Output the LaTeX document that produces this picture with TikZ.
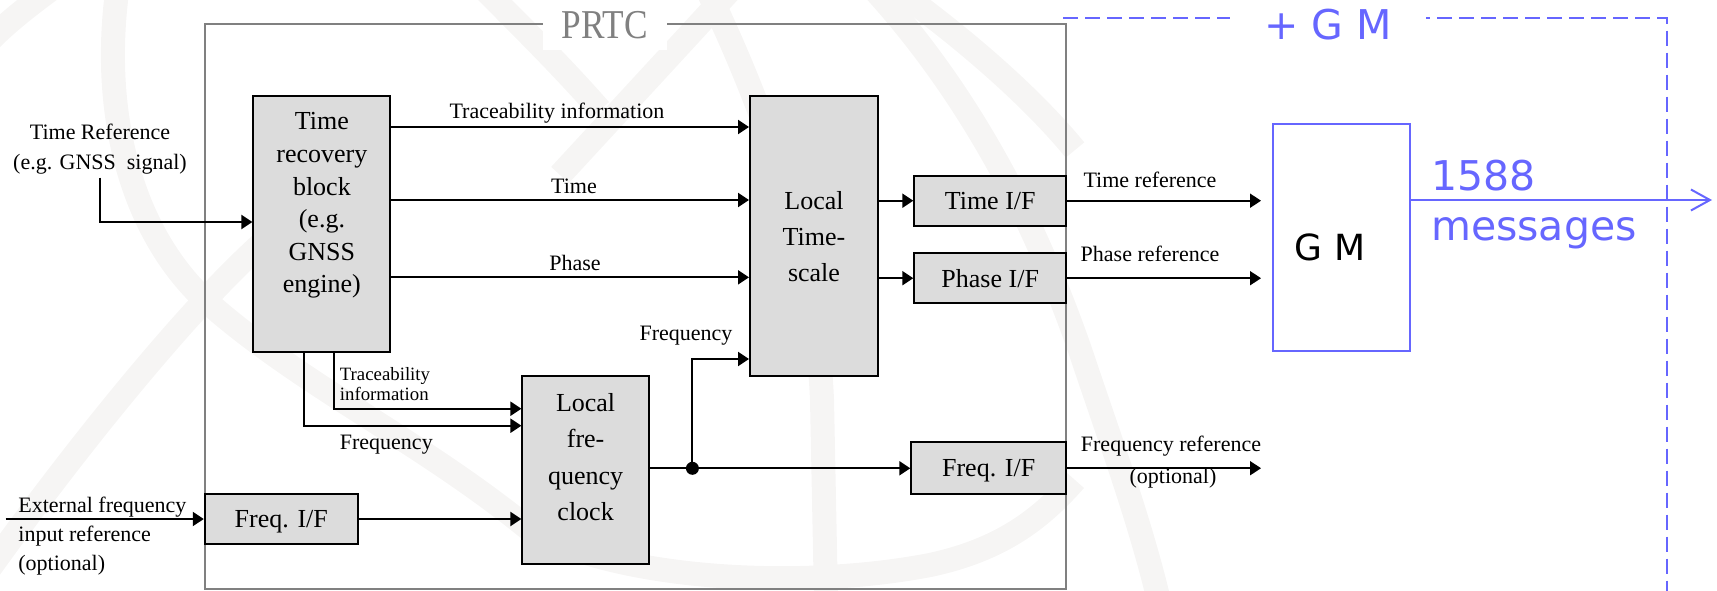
\documentclass[tikz,border=0pt]{standalone}
\usepackage{fontspec}
\usepackage{graphicx}
\setmainfont{Liberation Serif}
\newfontfamily\gmsans{DejaVu Sans}
\usetikzlibrary{arrows.meta}
\definecolor{boxgray}{RGB}{220,220,220}
\definecolor{framegray}{RGB}{128,128,128}
\definecolor{gmblue}{RGB}{102,102,255}
\definecolor{wmark}{RGB}{246,245,244}
\begin{document}
\begin{tikzpicture}[x=0.5pt,y=-0.5pt,
  blk/.style={draw=black,line width=1pt,fill=boxgray,inner sep=0pt},
  ifbox/.style={blk,font=\fontsize{13}{16}\selectfont,text depth=0pt},
  btxt/.style={align=center,inner sep=0pt},
  arr/.style={line width=1pt,-{Triangle[length=5.5pt,width=7pt]}},
  lbl/.style={font=\fontsize{11}{15}\selectfont,inner sep=0pt},
  wm/.style={draw=wmark,line width=12pt},
  gmline/.style={draw=gmblue,line width=1pt}]
\useasboundingbox (0,0) rectangle (1717,590);

% faint emblem in the background
\begin{scope}
\clip (0,0) rectangle (1717,590);
\draw[wm] (-10,40) .. controls (10,20) and (30,5) .. (50,-10);
\draw[wm] (118,-15) .. controls (100,110) and (130,230) .. (205,300)
  .. controls (300,385) and (420,440) .. (530,530)
  .. controls (620,580) and (800,590) .. (930,565)
  .. controls (1000,550) and (1040,520) .. (1075,480);
\draw[wm] (-15,575) .. controls (60,470) and (140,370) .. (205,300)
  .. controls (240,262) and (270,235) .. (300,210);
\draw[wm] (705,-15) .. controls (760,100) and (815,240) .. (822,400) -- (826,600);
\draw[wm] (870,-15) .. controls (985,110) and (1045,250) .. (1080,350)
  .. controls (1110,440) and (1140,520) .. (1160,605);
\draw[wm] (560,175) .. controls (620,110) and (680,45) .. (735,-15);
\draw[wm] (480,-15) .. controls (525,30) and (565,70) .. (600,110);
\draw[wm] (890,-15) .. controls (960,35) and (1030,95) .. (1075,150);
\end{scope}

% PRTC frame and its title
\node[draw=framegray,line width=1pt,minimum width=430.65pt,minimum height=282.4pt,inner sep=0pt]
  (prtc) at (635.35,306.1) {};
\node[fill=white,minimum width=62pt,minimum height=25pt,inner sep=0pt,text=framegray,
  font=\fontsize{20.5}{24}\selectfont] (prtclbl) at (605,25) {\scalebox{0.86}[1]{PRTC}};

% +GM dashed frame
\coordinate (gmfl) at (1063,18.3);
\coordinate (gmfr) at (1666.8,18.3);
\coordinate (gmfb) at (1666.8,595);
\draw[gmline,dash pattern=on 7.5pt off 3.5pt] (gmfl) -- (gmfr) -- (gmfb);
\node[fill=white,minimum width=98pt,minimum height=20pt,inner sep=0pt,text=gmblue,
  font=\gmsans\fontsize{20.5}{24}\selectfont] (gmlbl) at (1328,25) {+ G M};

% blocks
\node[blk,minimum width=68.5pt,minimum height=127.9pt] (trb) at (321.9,223.9) {};
\node[btxt,font=\fontsize{13}{16.3}\selectfont] (trbtxt) at (321.9,205.5)
  {Time\\recovery\\block\\(e.g.\\GNSS\\engine)};
\node[blk,minimum width=64pt,minimum height=139.9pt] (lts) at (814,235.9) {};
\node[btxt,font=\fontsize{13}{18}\selectfont] (ltstxt) at (814,237) {Local\\Time-\\scale};
\node[blk,minimum width=63.2pt,minimum height=94.3pt] (lfc) at (585.6,470) {};
\node[btxt,font=\fontsize{13}{18.15}\selectfont] (lfctxt) at (585.6,457.2)
  {Local\\fre-\\quency\\clock};
\node[ifbox,minimum width=75.9pt,minimum height=25pt] (tif) at (990.2,200.7) {Time I/F};
\node[ifbox,minimum width=75.9pt,minimum height=24.9pt] (pif) at (990.2,278.2) {Phase I/F};
\node[ifbox,minimum width=77.4pt,minimum height=25.9pt] (fifr) at (988.7,468.2) {Freq. I/F};
\node[ifbox,minimum width=76.5pt,minimum height=25pt] (fifl) at (281.3,519) {Freq. I/F};
\node[draw=gmblue,line width=1pt,fill=white,minimum width=68.3pt,minimum height=113.4pt,
  inner sep=0pt] (gm) at (1341.6,237.4) {};
\node[inner sep=0pt,font=\gmsans\fontsize{18}{22}\selectfont] (gmtxt) at (1330,247) {G M};

% labels
\node[lbl,align=center] (tref) at (100,149) {Time Reference\\(e.g. GNSS\ \ signal)};
\node[lbl,align=left,anchor=west,font=\fontsize{11}{14.35}\selectfont] (extref) at (18,536)
  {External frequency\\input reference\\(optional)};
\node[lbl,anchor=base] (ltrace) at (557,118) {Traceability information};
\node[lbl,anchor=base] (ltime) at (574,193.8) {Time};
\node[lbl,anchor=base] (lphase) at (575,270) {Phase};
\node[inner sep=0pt,align=left,anchor=west,font=\fontsize{9.4}{10}\selectfont] (ltrace2)
  at (339.5,384.4) {Traceability\\information};
\node[lbl,anchor=base west] (lfreq1) at (339.5,449.7) {Frequency};
\node[lbl,anchor=base] (lfreq2) at (686,340.6) {Frequency};
\node[lbl,anchor=base] (ltref) at (1150,187) {Time reference};
\node[lbl,anchor=base] (lpref) at (1150,261.5) {Phase reference};
\node[lbl,anchor=base] (lfref) at (1171,451.6) {Frequency reference};
\node[lbl,anchor=base] (lfopt) at (1173,483.5) {(optional)};
\node[inner sep=0pt,align=left,anchor=west,text=gmblue,
  font=\gmsans\fontsize{20.5}{25}\selectfont] (msg) at (1430.7,205) {1588\\messages};

% helper levels
\coordinate (yTr) at (0,127);
\coordinate (yTm) at (0,200);
\coordinate (yPh) at (0,277.3);
\coordinate (yRef) at (0,222);
\coordinate (yTr2) at (0,408.7);
\coordinate (yFq) at (0,425.7);
\coordinate (yLf) at (0,359);
\coordinate (yFm) at (0,468.3);
\coordinate (split) at (692.4,468.3);
\coordinate (extin) at (5.7,519);
\coordinate (toutT) at (1261,200.7);
\coordinate (toutP) at (1261,278.2);
\coordinate (toutF) at (1261,468.2);
\coordinate (msgend) at (1712,200);

% connectors
\draw[arr] ([yshift=-1.5pt]tref.south) |- (trb.west |- yRef);
\draw[arr] (trb.east |- yTr) -- (lts.west |- yTr);
\draw[arr] (trb.east |- yTm) -- (lts.west |- yTm);
\draw[arr] (trb.east |- yPh) -- (lts.west |- yPh);
\draw[arr] ([xshift=6.1pt]trb.south) |- (lfc.west |- yTr2);
\draw[arr] ([xshift=-8.85pt]trb.south) |- (lfc.west |- yFq);
\draw[arr] (extin) -- (fifl.west);
\draw[arr] (fifl.east) -- (lfc.west |- fifl.east);
\draw[arr] (lfc.east |- yFm) -- (fifr.west |- yFm);
\fill (split) circle (3.25pt);
\draw[arr] (split) |- (lts.west |- yLf);
\draw[arr] (lts.east |- tif.west) -- (tif.west);
\draw[arr] (lts.east |- pif.west) -- (pif.west);
\draw[arr] (tif.east) -- (toutT);
\draw[arr] (pif.east) -- (toutP);
\draw[arr] (fifr.east) -- (toutF);
\draw[gmline,-{Straight Barb[length=9.5pt,width=10.5pt]}] (gm.east |- msgend) -- (msgend);
\end{tikzpicture}
\end{document}
